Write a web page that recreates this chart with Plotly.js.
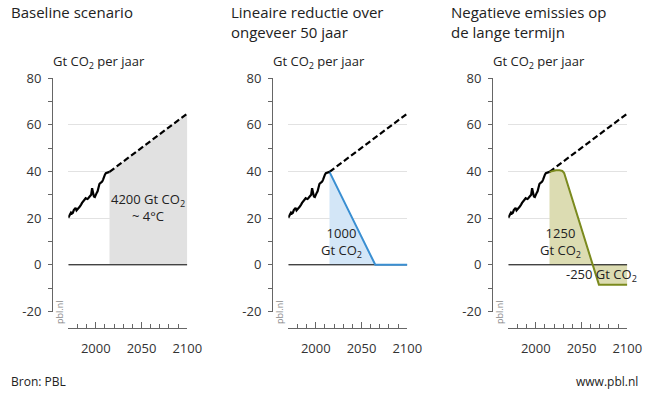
<!DOCTYPE html>
<html>
<head>
<meta charset="utf-8">
<script src="https://cdn.plot.ly/plotly-3.0.1.min.js"></script>
<style>html,body{margin:0;padding:0;background:#fff;}#chart{width:649px;height:395px;}</style>
</head>
<body>
<div id="chart"></div>
<script>
// ---- data ----
const histYears = [1970,1971,1972,1973,1974,1975,1976,1977,1978,1979,1980,1981,1982,1983,1984,1985,1986,1987,1988,1989,1990,1991,1992,1993,1994,1995,1996,1997,1998,1999,2000,2001,2002,2003,2004,2005,2006,2007,2008,2009,2010,2011,2012,2013,2014,2015];
const histValues = [20.2,21.0,21.6,22.4,22.0,22.3,23.4,24.0,24.4,23.3,24.0,24.2,24.6,25.0,25.8,26.5,27.0,27.6,28.3,28.5,28.3,28.2,28.6,29.0,29.3,30.0,32.8,30.5,29.2,29.0,29.6,30.8,31.5,33.2,34.6,35.0,35.2,35.6,36.5,38.0,38.6,39.2,39.4,39.6,39.7,39.8];
const baseYears = [2015, 2100];
const baseValues = [39.8, 64.8];
const linYears = [2015, 2065, 2100];
const linValues = [39.8, 0, 0];
const negYears = [2015, 2018, 2022, 2026, 2029, 2031, 2069, 2100];
const negValues = [39.8, 40.2, 40.5, 40.5, 40.2, 39.3, -8.5, -8.5];
const zeroYears = [1970, 2100];
const zeroValues = [0, 0];
const yTickVals = [-20, 0, 20, 40, 60, 80];
const yTickText = ['-20', '0', '20', '40', '60', '80'];
const xTickVals = [2000, 2050, 2100];
const xTickText = ['2000', '2050', '2100'];
const panelTitles = ['Baseline scenario', 'Lineaire reductie over<br>ongeveer 50 jaar', 'Negatieve emissies op<br>de lange termijn'];
const unitLabel = 'Gt CO<sub>2</sub> per jaar';
const areaLabels = ['4200 Gt CO<sub>2</sub><br>~ 4°C', '1000<br>Gt CO<sub>2</sub>', '1250<br>Gt CO<sub>2</sub>', '-250 Gt CO<sub>2</sub>'];

// ---- styling ----
const FONT = 'Open Sans, Noto Sans, sans-serif';
const W = 649, H = 395;
const px = v => v / W, py = v => 1 - v / H;
const panelOffsets = [0, 220, 440];
const axisX = 52, plotL = 68.3, plotR = 187.3;
const yTopPx = 78, yBotPx = 311.5, xAxisPx = 328;

const traces = [];
const layout = {
  width: W, height: H,
  margin: {l: 0, r: 0, t: 0, b: 0},
  paper_bgcolor: '#fff', plot_bgcolor: 'rgba(0,0,0,0)',
  showlegend: false,
  font: {family: FONT, size: 13, color: '#333'},
  annotations: [], shapes: []
};

panelOffsets.forEach((off, i) => {
  const n = i === 0 ? '' : String(i + 1);
  const xa = 'x' + n, ya = 'y' + n;
  layout['xaxis' + n] = {
    domain: [px(plotL + off), px(plotR + off)],
    range: [1970, 2100],
    anchor: 'free', position: py(xAxisPx),
    showgrid: false, zeroline: false,
    showline: true, linecolor: '#666', linewidth: 1,
    tickmode: 'array', tickvals: xTickVals, ticktext: xTickText,
    ticks: 'inside', ticklen: 6, tickcolor: '#666', tickwidth: 1,
    ticklabelstandoff: 8,
    minor: {tickmode: 'linear', tick0: 1970, dtick: 10, ticks: 'inside', ticklen: 4, tickcolor: '#666', showgrid: false},
    tickfont: {family: FONT, size: 13, color: '#333'},
    fixedrange: true
  };
  layout['yaxis' + n] = {
    domain: [py(yBotPx), py(yTopPx)],
    range: [-20, 80],
    anchor: 'free', position: px(axisX + off),
    showgrid: true, gridcolor: '#e2e2e2', gridwidth: 1,
    zeroline: false,
    showline: true, linecolor: '#666', linewidth: 1,
    tickmode: 'array', tickvals: yTickVals, ticktext: yTickText,
    ticks: 'outside', ticklen: 4, tickcolor: '#666',
    ticklabelstandoff: 4,
    minor: {tickmode: 'linear', tick0: -20, dtick: 10, ticks: 'outside', ticklen: 4, tickcolor: '#666', showgrid: false},
    tickfont: {family: FONT, size: 13, color: '#333'},
    fixedrange: true
  };

  // fills first
  if (i === 0) {
    traces.push({x: baseYears, y: baseValues, xaxis: xa, yaxis: ya, type: 'scatter', mode: 'lines',
      fill: 'tozeroy', fillcolor: '#e1e1e1', line: {width: 0}, hoverinfo: 'skip'});
  } else if (i === 1) {
    traces.push({x: linYears, y: linValues, xaxis: xa, yaxis: ya, type: 'scatter', mode: 'lines',
      fill: 'tozeroy', fillcolor: '#d3e6f7', line: {width: 0}, hoverinfo: 'skip'});
  } else {
    traces.push({x: negYears, y: negValues, xaxis: xa, yaxis: ya, type: 'scatter', mode: 'lines',
      fill: 'tozeroy', fillcolor: '#dcdcb2', line: {width: 0}, hoverinfo: 'skip'});
  }
  // zero line
  traces.push({x: zeroYears, y: zeroValues, xaxis: xa, yaxis: ya, type: 'scatter', mode: 'lines',
    line: {color: '#000', width: 1}, hoverinfo: 'skip', cliponaxis: false});
  // baseline dashed
  traces.push({x: baseYears, y: baseValues, xaxis: xa, yaxis: ya, type: 'scatter', mode: 'lines',
    line: {color: '#000', width: 2.2, dash: '6px,3px'}, hoverinfo: 'skip'});
  // scenario line
  if (i === 1) {
    traces.push({x: linYears, y: linValues, xaxis: xa, yaxis: ya, type: 'scatter', mode: 'lines',
      line: {color: '#3a8fd2', width: 2}, hoverinfo: 'skip', cliponaxis: false});
  } else if (i === 2) {
    traces.push({x: negYears, y: negValues, xaxis: xa, yaxis: ya, type: 'scatter', mode: 'lines',
      line: {color: '#7b8a1e', width: 2}, hoverinfo: 'skip', cliponaxis: false});
  }
  // history
  traces.push({x: histYears, y: histValues, xaxis: xa, yaxis: ya, type: 'scatter', mode: 'lines',
    line: {color: '#000', width: 2.2}, hoverinfo: 'skip'});

  // titles
  layout.annotations.push({xref: 'paper', yref: 'paper', x: px(off + 9), y: py(0), xanchor: 'left', yanchor: 'top',
    text: panelTitles[i], showarrow: false, align: 'left', font: {family: FONT, size: 15, color: '#222'}});
  layout.annotations.push({xref: 'paper', yref: 'paper', x: px(off + 51), y: py(62), xanchor: 'left', yanchor: 'middle',
    text: unitLabel, showarrow: false, font: {family: FONT, size: 13, color: '#222'}});
  layout.annotations.push({xref: 'paper', yref: 'paper', x: px(off + 59), y: py(313), xanchor: 'center', yanchor: 'middle',
    text: 'pbl.nl', textangle: -90, showarrow: false, font: {family: FONT, size: 9, color: '#888'}});
});

// area labels
layout.annotations.push({xref: 'x', yref: 'y', x: 2057, y: 24.5, text: areaLabels[0], showarrow: false,
  font: {family: FONT, size: 13, color: '#222'}, align: 'center'});
layout.annotations.push({xref: 'x2', yref: 'y2', x: 2028.5, y: 9.5, text: areaLabels[1], showarrow: false,
  font: {family: FONT, size: 13, color: '#222'}, align: 'center'});
layout.annotations.push({xref: 'x3', yref: 'y3', x: 2027.5, y: 9.5, text: areaLabels[2], showarrow: false,
  font: {family: FONT, size: 13, color: '#222'}, align: 'center'});
layout.annotations.push({xref: 'x3', yref: 'y3', x: 2072, y: -4.4, text: areaLabels[3], showarrow: false,
  font: {family: FONT, size: 13, color: '#222'}, align: 'center'});

// footer
layout.annotations.push({xref: 'paper', yref: 'paper', x: px(9), y: py(381), xanchor: 'left', yanchor: 'middle',
  text: 'Bron: PBL', showarrow: false, font: {family: FONT, size: 12, color: '#222'}});
layout.annotations.push({xref: 'paper', yref: 'paper', x: px(640), y: py(381), xanchor: 'right', yanchor: 'middle',
  text: 'www.pbl.nl', showarrow: false, font: {family: FONT, size: 12, color: '#222'}});

Plotly.newPlot('chart', traces, layout, {staticPlot: true, displayModeBar: false});
</script>
</body>
</html>
